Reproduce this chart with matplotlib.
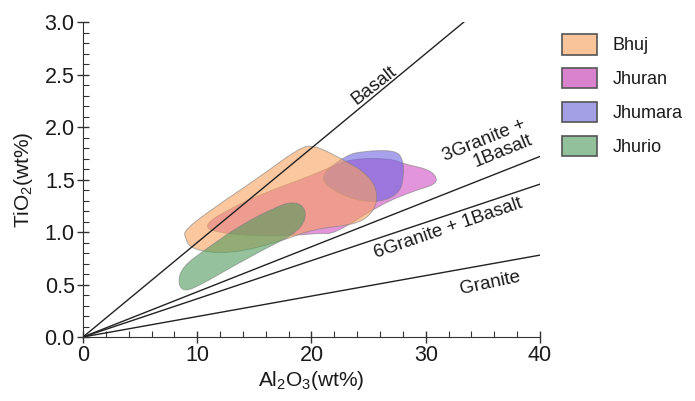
import matplotlib
matplotlib.use("Agg")
import matplotlib.pyplot as plt
from matplotlib.path import Path
from matplotlib.patches import PathPatch, Patch
import numpy as np

plt.rcParams['font.family'] = ['Liberation Sans', 'DejaVu Sans']
plt.rcParams['mathtext.default'] = 'regular'

# Mixing lines (TiO2 / Al2O3 ratio)
line_names = ["Basalt", "3Granite + 1Basalt", "6Granite + 1Basalt", "Granite"]
line_slopes = [0.090, 0.043, 0.0364, 0.0195]

# Field outlines (Al2O3, TiO2) control points
bhuj_x = [8.9, 9.5, 12.8, 17.0, 20.2, 23.8, 25.3, 25.9, 25.0, 22.6, 20.2, 18.9, 15.4, 11.3, 8.9]
bhuj_y = [0.95, 0.83, 0.79, 0.90, 1.03, 1.07, 1.17, 1.35, 1.55, 1.70, 1.83, 1.80, 1.52, 1.22, 1.02]

jhuran_x = [10.6, 11.4, 15.0, 19.0, 20.7, 22.0, 26.0, 28.9, 30.8, 31.0, 30.2, 28.0, 26.9, 23.7, 21.9, 19.6, 16.0, 12.8]
jhuran_y = [1.07, 1.00, 0.96, 0.97, 0.99, 0.98, 1.26, 1.39, 1.45, 1.52, 1.60, 1.65, 1.70, 1.70, 1.63, 1.52, 1.38, 1.22]

jhumara_x = [20.5, 23.0, 24.5, 27.3, 28.0, 28.1, 27.6, 25.4, 22.5]
jhumara_y = [1.52, 1.73, 1.77, 1.78, 1.70, 1.52, 1.35, 1.27, 1.35]

jhurio_x = [8.3, 8.8, 10.2, 12.9, 16.1, 18.5, 19.5, 19.4, 18.4, 16.9, 13.7, 10.8, 8.7]
jhurio_y = [0.52, 0.43, 0.49, 0.66, 0.85, 0.98, 1.11, 1.24, 1.29, 1.24, 1.06, 0.84, 0.67]

field_names = ["Jhuran", "Jhumara", "Bhuj", "Jhurio"]
field_colors = {"Bhuj": "#f7a25e", "Jhuran": "#d04fc2", "Jhumara": "#6f62e0", "Jhurio": "#4e9a5c"}
legend_order = ["Bhuj", "Jhuran", "Jhumara", "Jhurio"]
legend_colors = {"Bhuj": "#f9c49a", "Jhuran": "#d983cf", "Jhumara": "#a29fe4", "Jhurio": "#91c09a"}

fields = {"Bhuj": (bhuj_x, bhuj_y), "Jhuran": (jhuran_x, jhuran_y),
          "Jhumara": (jhumara_x, jhumara_y), "Jhurio": (jhurio_x, jhurio_y)}


def smooth_path(xs, ys):
    pts = np.column_stack([xs, ys])
    n = len(pts)
    mids = (pts + np.roll(pts, -1, axis=0)) / 2.0
    verts = [mids[-1]]
    codes = [Path.MOVETO]
    for i in range(n):
        verts += [pts[i], mids[i]]
        codes += [Path.CURVE3, Path.CURVE3]
    return Path(verts, codes)


fig = plt.figure(figsize=(6.95, 4.01), dpi=100)
ax = fig.add_axes([0.1194, 0.1596, 0.6576, 0.7854])

xs_line = np.array([0, 40])
for s in line_slopes:
    ax.plot(xs_line, s * xs_line, color="#222222", lw=1.0, zorder=3)

for name in field_names:
    x, y = fields[name]
    ax.add_patch(PathPatch(smooth_path(x, y), facecolor=field_colors[name], alpha=0.6,
                           edgecolor="#808080", lw=0.7, zorder=2))

tc = "#1a1a1a"
ax.text(25.5, 2.40, "Basalt", rotation=38, fontsize=13.5, ha="center", va="center", color=tc)
ax.text(35.4, 1.80, "3Granite +\n1Basalt", rotation=22, fontsize=13.5, ha="center", va="center",
        color=tc, multialignment="right", linespacing=1.0)
ax.text(32.0, 1.03, "6Granite + 1Basalt", rotation=19, fontsize=13.5, ha="center", va="center", color=tc)
ax.text(35.6, 0.51, "Granite", rotation=12, fontsize=13.5, ha="center", va="center", color=tc)

ax.set_xlim(0, 40)
ax.set_ylim(0, 3.0)
ax.set_xticks([0, 10, 20, 30, 40])
ax.set_xticks(np.arange(0, 41, 2), minor=True)
ax.set_yticks(np.arange(0, 3.01, 0.5))
ax.set_yticks(np.arange(0, 3.01, 0.1), minor=True)
ax.set_yticklabels([f"{v:.1f}" for v in np.arange(0, 3.01, 0.5)])
ax.tick_params(which="major", direction="inout", length=8, width=1, labelsize=15.5, color="#333333",
               labelcolor=tc, pad=2)
ax.tick_params(which="minor", direction="in", length=4, width=0.8, color="#333333")
for sp in ["top", "right"]:
    ax.spines[sp].set_visible(False)
for sp in ["left", "bottom"]:
    ax.spines[sp].set_color("#333333")
ax.set_xlabel("Al$_2$O$_3$(wt%)", fontsize=15, labelpad=2, color=tc)
ax.set_ylabel("TiO$_2$(wt%)", fontsize=15, labelpad=7, color=tc)

handles = [Patch(facecolor=legend_colors[n], edgecolor="#555555", lw=1.2) for n in legend_order]
fig.legend(handles, legend_order, loc="upper left", bbox_to_anchor=(0.785, 0.955), frameon=False,
           fontsize=13, handlelength=1.95, handleheight=1.35, labelspacing=0.75, handletextpad=0.85,
           labelcolor=tc)

fig.savefig("out.png", dpi=100)
